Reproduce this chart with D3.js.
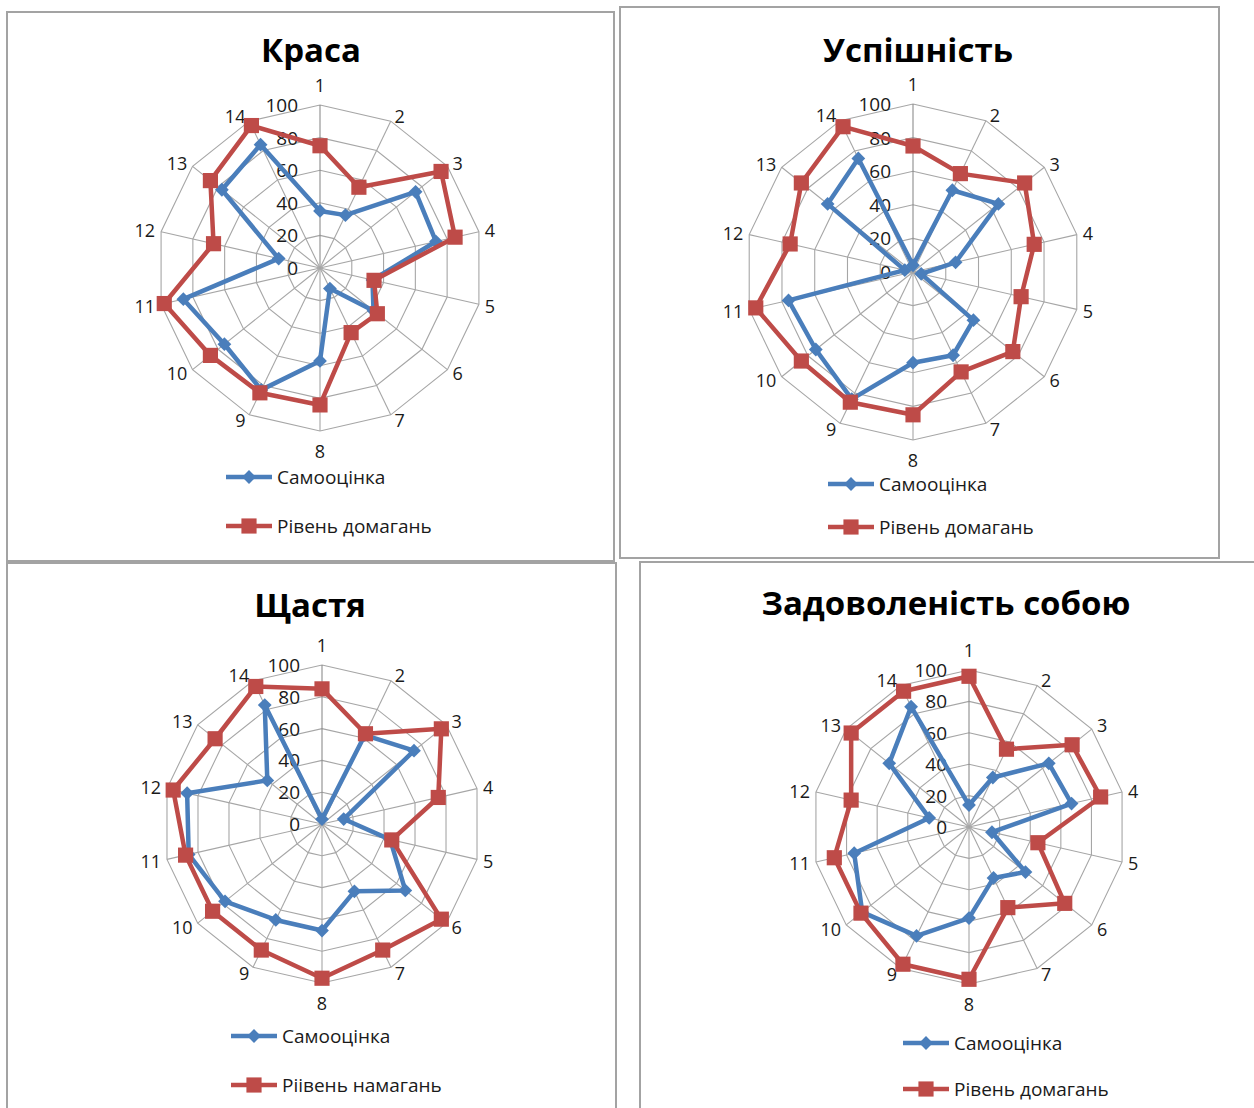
<!DOCTYPE html>
<html>
<head>
<meta charset="utf-8">
<script src="https://cdn.jsdelivr.net/npm/d3@7"></script>
<style>
  body { margin: 0; background: #fff; }
  svg { display: block; font-family: "Open Sans", "Noto Sans", sans-serif; }
</style>
</head>
<body>
<svg id="chart" width="1254" height="1108"></svg>
<script>
// categories (respondents) and value axis ticks
const categories = ["1", "2", "3", "4", "5", "6", "7", "8", "9", "10", "11", "12", "13", "14"];
const valueTicks = [0, 20, 40, 60, 80, 100];

// series names
const seriesSelf = "Самооцінка";
const seriesClaim = "Рівень домагань";
const seriesClaimAlt = "Ріівень намагань";

// Краса
const krasaSelf  = [35, 36, 75, 73, 33, 42, 14, 57, 83, 75, 86, 26, 77, 84];
const krasaClaim = [75, 55, 95, 85, 34, 45, 44, 84, 85, 86, 98, 67, 86, 97];
// Успішність
const uspishSelf  = [4, 54, 65, 26, 5, 46, 55, 54, 84, 74, 76, 5, 65, 75];
const uspishClaim = [75, 65, 85, 74, 66, 76, 66, 85, 86, 85, 96, 75, 85, 96];
// Щастя
const shchastiaSelf  = [3, 62, 74, 14, 44, 67, 47, 67, 67, 78, 86, 87, 44, 83];
const shchastiaClaim = [85, 63, 96, 75, 45, 96, 88, 97, 88, 88, 88, 96, 86, 96];
// Задоволеність собою
const zadovSelf  = [14, 35, 65, 67, 15, 46, 36, 58, 77, 87, 75, 26, 65, 85];
const zadovClaim = [96, 55, 84, 86, 45, 78, 57, 97, 97, 88, 88, 77, 96, 96];

const blue = "#4A7EBB", red = "#BE4B48";

// layout of the four chart boxes
const panels = [
  { title: "Краса", self: krasaSelf, claim: krasaClaim, claimName: seriesClaim,
    frame: [7, 12, 607, 549], cx: 320, cy: 268, R: 163,
    titleX: 311, titleY: 62, legendX: 226, legendY: [477, 526] },
  { title: "Успішність", self: uspishSelf, claim: uspishClaim, claimName: seriesClaim,
    frame: [620, 7, 599, 551], cx: 913, cy: 272, R: 168,
    titleX: 918, titleY: 62, legendX: 828, legendY: [484, 527] },
  { title: "Щастя", self: shchastiaSelf, claim: shchastiaClaim, claimName: seriesClaimAlt,
    frame: [7, 563, 609, 560], cx: 322, cy: 824, R: 159,
    titleX: 310, titleY: 617, legendX: 231, legendY: [1036, 1085] },
  { title: "Задоволеність собою", self: zadovSelf, claim: zadovClaim, claimName: seriesClaim,
    frame: [640, 562, 640, 560], cx: 969, cy: 827, R: 157,
    titleX: 946, titleY: 615, legendX: 903, legendY: [1043, 1089] }
];

const svg = d3.select("#chart");

const angle = d3.scaleLinear()
  .domain([0, categories.length])
  .range([0, 2 * Math.PI]);

function drawRadar(p) {
  const g = svg.append("g");

  // box
  g.append("rect")
    .attr("x", p.frame[0]).attr("y", p.frame[1])
    .attr("width", p.frame[2]).attr("height", p.frame[3])
    .attr("fill", "#fff").attr("stroke", "#a3a3a3").attr("stroke-width", 2);

  // title
  g.append("text")
    .attr("x", p.titleX).attr("y", p.titleY)
    .attr("text-anchor", "middle")
    .style("font-size", "33px").style("font-weight", "bold")
    .attr("fill", "#000")
    .text(p.title);

  const r = d3.scaleLinear().domain([0, 100]).range([0, p.R]);
  const plot = g.append("g").attr("transform", "translate(" + p.cx + "," + p.cy + ")");

  // grid polygons
  const ring = d3.lineRadial()
    .angle(function(d, i) { return angle(i); })
    .radius(function(d) { return r(d); })
    .curve(d3.curveLinearClosed);
  plot.selectAll(".ring")
    .data(valueTicks.filter(function(v) { return v > 0; }))
    .enter().append("path")
      .attr("d", function(v) { return ring(categories.map(function() { return v; })); })
      .attr("fill", "none").attr("stroke", "#a6a6a6").attr("stroke-width", 1.1);

  // spokes
  plot.selectAll(".spoke")
    .data(categories)
    .enter().append("line")
      .attr("x2", function(d, i) { return d3.pointRadial(angle(i), r(100))[0]; })
      .attr("y2", function(d, i) { return d3.pointRadial(angle(i), r(100))[1]; })
      .attr("stroke", function(d, i) { return i === 0 ? "#8c8c8c" : "#a6a6a6"; })
      .attr("stroke-width", 1.1);

  // category labels: top/bottom ones sit beyond the tip, the rest beside it
  plot.selectAll(".cat")
    .data(categories)
    .enter().append("text")
      .attr("x", function(d, i) {
        const s = Math.sin(angle(i)), hw = d.length * 5.2;
        if (Math.abs(s) < 0.01) return 0;
        return s * r(100) + Math.sign(s) * (hw + 2 + 4 * Math.abs(s));
      })
      .attr("y", function(d, i) {
        const s = Math.sin(angle(i)), c = Math.cos(angle(i));
        if (Math.abs(s) < 0.01) return -c * (r(100) + 20);
        return -c * r(100) - c * 6;
      })
      .attr("text-anchor", "middle")
      .attr("dominant-baseline", "central")
      .style("font-size", "18px")
      .attr("fill", "#1a1a1a")
      .text(function(d) { return d; });

  // value tick labels
  plot.selectAll(".tick")
    .data(valueTicks)
    .enter().append("text")
      .attr("x", -22)
      .attr("y", function(v) { return -r(v); })
      .attr("text-anchor", "end")
      .attr("dominant-baseline", "central")
      .style("font-size", "19px")
      .attr("fill", "#1a1a1a")
      .text(function(v) { return v; });

  // series
  const line = d3.lineRadial()
    .angle(function(d, i) { return angle(i); })
    .radius(function(d) { return r(d); })
    .curve(d3.curveLinearClosed);

  const diamond = d3.symbol().type(d3.symbolSquare).size(95);
  const square = d3.symbol().type(d3.symbolSquare).size(230);

  const series = [
    { values: p.self, color: blue, sym: diamond, rot: 45 },
    { values: p.claim, color: red, sym: square, rot: 0 }
  ];
  series.forEach(function(s) {
    plot.append("path")
      .attr("d", line(s.values))
      .attr("fill", "none")
      .attr("stroke", s.color)
      .attr("stroke-width", 4.5)
      .attr("stroke-linejoin", "round");
    plot.selectAll(null)
      .data(s.values)
      .enter().append("path")
        .attr("d", s.sym())
        .attr("transform", function(d, i) {
          const pt = d3.pointRadial(angle(i), r(d));
          return "translate(" + pt[0] + "," + pt[1] + ")rotate(" + s.rot + ")";
        })
        .attr("fill", s.color);
  });

  // legend
  const legend = [
    { name: seriesSelf, color: blue, sym: diamond, rot: 45 },
    { name: p.claimName, color: red, sym: square, rot: 0 }
  ];
  legend.forEach(function(l, i) {
    const y = p.legendY[i];
    g.append("line")
      .attr("x1", p.legendX).attr("x2", p.legendX + 46)
      .attr("y1", y).attr("y2", y)
      .attr("stroke", l.color).attr("stroke-width", 4.5);
    g.append("path")
      .attr("d", l.sym())
      .attr("transform", "translate(" + (p.legendX + 23) + "," + y + ")rotate(" + l.rot + ")")
      .attr("fill", l.color);
    g.append("text")
      .attr("x", p.legendX + 51).attr("y", y)
      .attr("dominant-baseline", "central")
      .style("font-size", "19px")
      .attr("fill", "#1a1a1a")
      .text(l.name);
  });
}

panels.forEach(drawRadar);
</script>
</body>
</html>
